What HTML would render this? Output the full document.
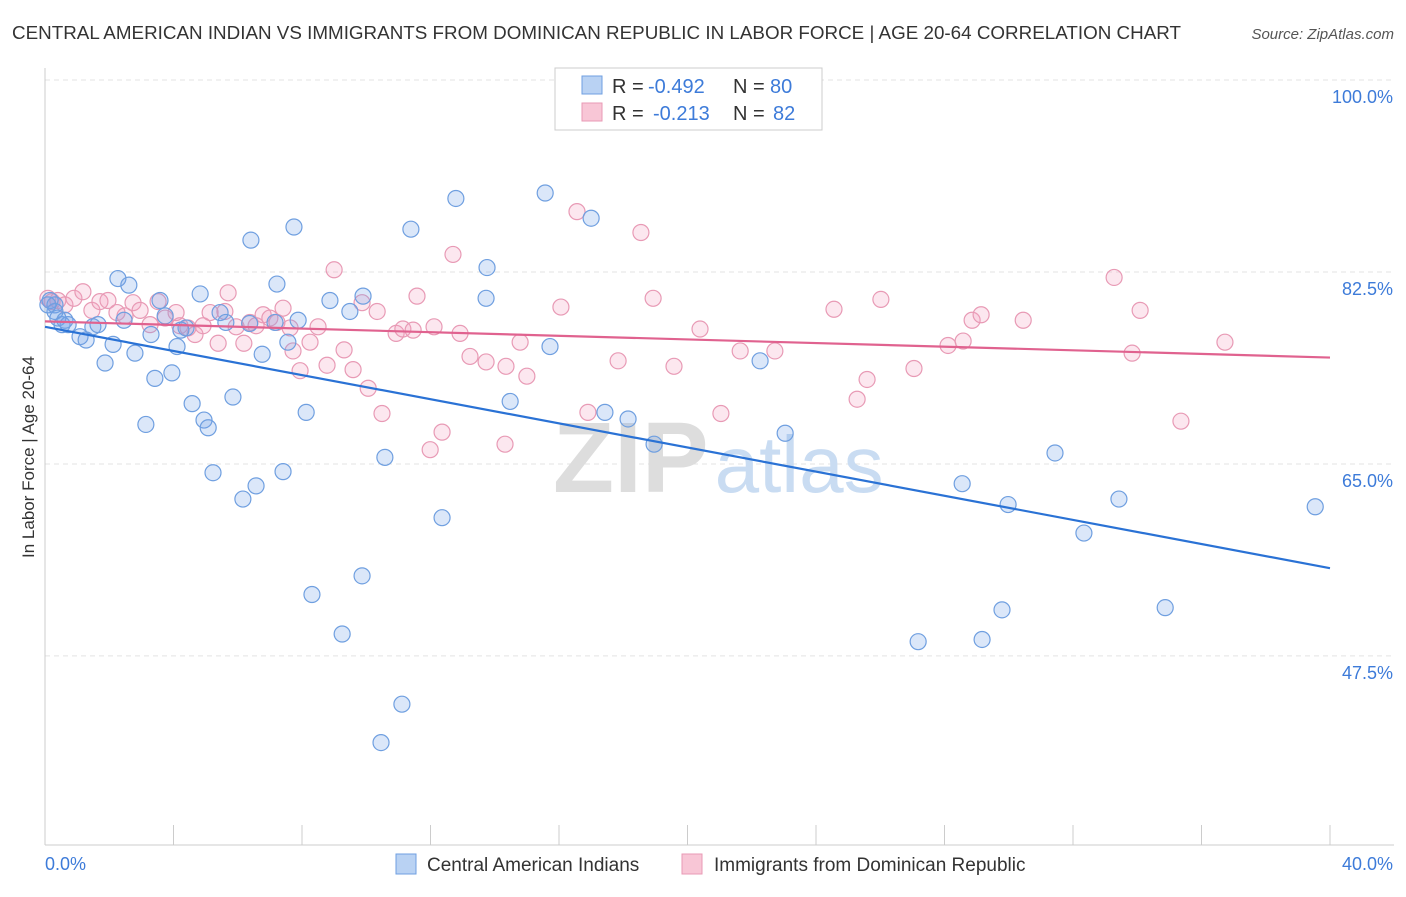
<!DOCTYPE html>
<html><head><meta charset="utf-8"><style>
body{margin:0;background:#fff;font-family:"Liberation Sans",sans-serif;}
svg text{font-family:"Liberation Sans",sans-serif;}
</style></head><body>
<svg width="1406" height="892" xmlns="http://www.w3.org/2000/svg" id="chart">
<text x="12" y="39" font-size="18" fill="#333" textLength="1169" lengthAdjust="spacingAndGlyphs">CENTRAL AMERICAN INDIAN VS IMMIGRANTS FROM DOMINICAN REPUBLIC IN LABOR FORCE | AGE 20-64 CORRELATION CHART</text>
<text x="1394" y="39" font-size="15" fill="#555" text-anchor="end" font-style="italic">Source: ZipAtlas.com</text>
<text transform="translate(34,457) rotate(-90)" font-size="17" fill="#333" text-anchor="middle">In Labor Force | Age 20-64</text>
<g id="grid"></g>
<text x="553" y="492" font-size="100" fill="#ddd" font-family="Liberation Serif" font-weight="bold">ZIP<tspan fill="#c9dcf2" font-family="Liberation Sans" font-weight="normal" font-size="80" dx="6">atlas</tspan></text>
<g id="points"></g>
<g id="lines"></g>
<g>
<rect x="555" y="68" width="267" height="62" fill="#fff" stroke="#ccc"/>
<rect x="582" y="76" width="20" height="18" fill="#b9d2f3" stroke="#6f9fe0"/>
<rect x="582" y="103" width="20" height="18" fill="#f8c6d6" stroke="#e89ab5"/>
<text x="612" y="93" font-size="20" fill="#333">R =</text>
<text x="648" y="93" font-size="20" fill="#3d7bd9">-0.492</text>
<text x="733" y="93" font-size="20" fill="#333">N =</text>
<text x="770" y="93" font-size="20" fill="#3d7bd9">80</text>
<text x="612" y="120" font-size="20" fill="#333">R =</text>
<text x="653" y="120" font-size="20" fill="#3d7bd9">-0.213</text>
<text x="733" y="120" font-size="20" fill="#333">N =</text>
<text x="773" y="120" font-size="20" fill="#3d7bd9">82</text>
</g>
<g>
<rect x="396" y="854" width="20" height="20" fill="#b9d2f3" stroke="#6f9fe0"/>
<text x="427" y="871" font-size="19" fill="#333">Central American Indians</text>
<rect x="682" y="854" width="20" height="20" fill="#f8c6d6" stroke="#e89ab5"/>
<text x="714" y="871" font-size="19" fill="#333">Immigrants from Dominican Republic</text>
</g>
</svg>
<script>
const yTicks=[100,82.5,65,47.5];
const yTickLabels=["100.0%","82.5%","65.0%","47.5%"];
const xTickLabels=["0.0%","40.0%"];
const blueX=[0.16,0.31,0.40,0.53,0.72,1.09,1.28,1.49,1.65,1.87,2.12,2.27,2.46,2.61,2.80,3.14,3.30,3.42,3.58,3.74,3.95,4.11,4.23,4.39,4.58,4.83,4.95,5.08,5.23,5.45,5.63,5.85,6.16,6.37,6.41,6.57,6.76,7.16,7.22,7.41,7.56,7.75,7.88,8.13,8.31,8.87,9.25,9.49,9.87,9.90,10.58,11.11,10.46,11.39,12.36,12.79,13.76,13.73,14.48,15.57,15.72,17.00,17.43,18.15,18.96,22.26,23.04,27.18,28.55,29.17,29.79,29.98,31.44,32.34,33.43,34.87,39.54,0.31,0.09,0.62];
const blueY=[79.9,79.5,78.3,77.7,77.7,76.6,76.3,77.5,77.7,74.2,75.9,81.9,78.1,81.3,75.1,68.6,76.8,72.8,79.9,78.5,73.3,75.7,77.2,77.4,70.5,80.5,69.0,68.3,64.2,78.8,77.9,71.1,61.8,77.8,85.4,63.0,75.0,77.9,81.4,64.3,76.1,86.6,78.1,69.7,53.1,79.9,49.5,78.9,54.8,80.3,65.6,43.1,39.6,86.4,60.1,89.2,82.9,80.1,70.7,89.7,75.7,87.4,69.7,69.1,66.8,74.4,67.8,48.8,63.2,49.0,51.7,61.3,66.0,58.7,61.8,51.9,61.1,78.9,79.5,78.1];
const pinkX=[0.09,0.22,0.40,0.62,0.90,1.18,1.46,1.71,1.96,2.24,2.49,2.74,2.96,3.27,3.52,3.74,4.08,4.20,4.45,4.67,4.92,5.14,5.39,5.60,5.70,5.95,6.19,6.38,6.57,6.79,7.00,7.22,7.41,7.63,7.72,7.94,8.25,8.50,8.78,9.00,9.31,9.59,9.87,10.06,10.34,10.49,10.93,11.14,11.46,11.58,11.99,12.11,12.36,12.70,12.92,13.23,13.73,14.32,14.35,14.79,15.00,16.06,16.56,16.90,17.84,18.55,18.93,19.58,20.39,21.04,21.64,22.72,24.56,25.28,25.59,26.02,27.05,28.11,28.58,28.86,29.14,30.45,33.28,33.84,34.09,35.36,36.73];
const pinkY=[80.1,79.8,79.9,79.5,80.1,80.7,79.0,79.8,79.9,78.8,78.5,79.7,79.0,77.7,79.8,78.3,78.8,77.6,77.4,76.8,77.6,78.8,76.0,78.9,80.6,77.5,76.0,77.9,77.6,78.6,78.3,77.9,79.2,77.4,75.3,73.5,76.1,77.5,74.0,82.7,75.4,73.6,79.7,71.9,78.9,69.6,76.9,77.3,77.2,80.3,66.3,77.5,67.9,84.1,76.9,74.8,74.3,66.8,73.9,76.1,73.0,79.3,88.0,69.7,74.4,86.1,80.1,73.9,77.3,69.6,75.3,75.3,79.1,70.9,72.7,80.0,73.7,75.8,76.2,78.1,78.6,78.1,82.0,75.1,79.0,68.9,76.1];
const blueTrend=[77.5,55.5];
const pinkTrend=[78.0,74.7];
const trendX=[0,40];

const NS="http://www.w3.org/2000/svg";
const xs=v=>45+v/40*1285;
const ys=v=>80+(100-v)*10.97;
function mk(t,a){const e=document.createElementNS(NS,t);for(const k in a)e.setAttribute(k,a[k]);return e;}
const grid=document.getElementById('grid');
yTicks.forEach((t,i)=>{
  const l=mk('line',{x1:45,x2:1394,y1:ys(t),y2:ys(t),stroke:'#e3e3e3','stroke-dasharray':'5,4'});
  
  
  grid.appendChild(l);
  const tx=mk('text',{x:1393,y:ys(t)+23,'font-size':18,fill:'#3d7bd9','text-anchor':'end'});
  tx.textContent=yTickLabels[i];
  
  
  grid.appendChild(tx);
});
const ax=mk('line',{x1:45,x2:1394,y1:845,y2:845,stroke:'#ccc'});


grid.appendChild(ax);
const yax=mk('line',{x1:45,x2:45,y1:68,y2:845,stroke:'#ccc'});


grid.appendChild(yax);
for(let i=0;i<=10;i++){
  const t=mk('line',{x1:xs(i*4),x2:xs(i*4),y1:825,y2:845,stroke:'#ccc'});
  
  
  grid.appendChild(t);
}
[[0,'start',45],[40,'end',1393]].forEach((d,i)=>{
  const tx=mk('text',{x:d[2],y:870,'font-size':18,fill:'#3d7bd9','text-anchor':d[1]});
  tx.textContent=xTickLabels[i];
  
  
  grid.appendChild(tx);
});
const pts=document.getElementById('points');
pinkX.forEach((x,i)=>{
  const c=mk('circle',{cx:xs(x),cy:ys(pinkY[i]),r:8,fill:'rgba(243,160,190,0.25)',stroke:'#e89ab5','stroke-width':1.2});
  
  
  pts.appendChild(c);
});
blueX.forEach((x,i)=>{
  const c=mk('circle',{cx:xs(x),cy:ys(blueY[i]),r:8,fill:'rgba(110,160,230,0.25)',stroke:'#6f9fe0','stroke-width':1.2});
  
  
  pts.appendChild(c);
});
const lines=document.getElementById('lines');
const bl=mk('line',{x1:xs(trendX[0]),y1:ys(blueTrend[0]),x2:xs(trendX[1]),y2:ys(blueTrend[1]),stroke:'#2a72d5','stroke-width':2.2});


lines.appendChild(bl);
const pl=mk('line',{x1:xs(trendX[0]),y1:ys(pinkTrend[0]),x2:xs(trendX[1]),y2:ys(pinkTrend[1]),stroke:'#e0628f','stroke-width':2.2});


lines.appendChild(pl);
</script>
</body></html>
